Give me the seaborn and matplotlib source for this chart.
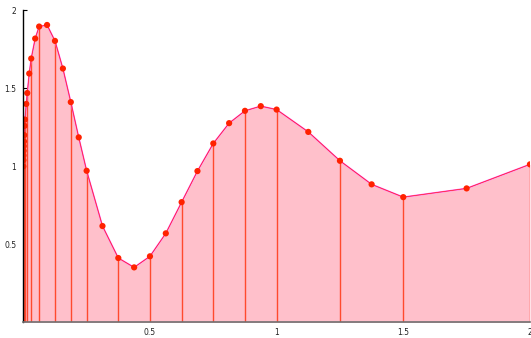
import numpy as np
import pandas as pd
import matplotlib
matplotlib.use("Agg")
import matplotlib.pyplot as plt
import seaborn as sns

# sample points (x, y)
x_samples = [0.0, 0.0002, 0.0005, 0.001, 0.0015, 0.0025, 0.0035, 0.005, 0.0065,
             0.0117, 0.0156, 0.0234, 0.03125, 0.0469, 0.0625, 0.09375, 0.125,
             0.15625, 0.1875, 0.21875, 0.25, 0.3125, 0.375, 0.4375, 0.5, 0.5625,
             0.625, 0.6875, 0.75, 0.8125, 0.875, 0.9375, 1.0, 1.125, 1.25, 1.375,
             1.5, 1.75, 2.0]
y_samples = [1.00, 1.04, 1.07, 1.10, 1.13, 1.16, 1.20, 1.26, 1.30,
             1.40, 1.47, 1.595, 1.691, 1.819, 1.896, 1.906, 1.804,
             1.627, 1.412, 1.186, 0.972, 0.618, 0.413, 0.353, 0.424, 0.571,
             0.771, 0.970, 1.147, 1.277, 1.356, 1.386, 1.364, 1.221, 1.036, 0.885,
             0.803, 0.859, 1.013]

# x positions of the vertical stems (a subset of the samples)
stem_x = [0.0, 0.0035, 0.0065, 0.0156, 0.03125, 0.0625, 0.125, 0.1875, 0.25,
          0.375, 0.5, 0.625, 0.75, 0.875, 1.0, 1.25, 1.5, 2.0]

x_ticks = [0.5, 1, 1.5, 2]
x_tick_labels = ["0.5", "1", "1.5", "2"]
y_ticks = [0.5, 1, 1.5, 2]
y_tick_labels = ["0.5", "1", "1.5", "2"]

df = pd.DataFrame({"x": x_samples, "y": y_samples})
lookup = dict(zip(x_samples, y_samples))
stem_y = [lookup[v] for v in stem_x]

sns.set_theme(style="white")
plt.rcParams["font.family"] = ["DejaVu Sans"]

fig = plt.figure(figsize=(5.31, 3.38), dpi=100)
ax = fig.add_axes([0.0439, 0.0459, 0.9541, 0.9236])

ax.fill_between(df["x"], df["y"], 0, color="#ffc0cb", linewidth=0, zorder=1)
ax.vlines(stem_x, 0, stem_y, color="#ff4a2e", linewidth=1.0, zorder=2)
sns.lineplot(data=df, x="x", y="y", ax=ax, color="#ff55ff", linewidth=1.1,
             estimator=None, sort=False, zorder=3)
sns.lineplot(data=df, x="x", y="y", ax=ax, color="#ff2a10", linewidth=0.5,
             estimator=None, sort=False, zorder=4)
sns.scatterplot(data=df, x="x", y="y", ax=ax, color="#ff2200", s=20,
                edgecolor="none", linewidth=0, zorder=5)

ax.set_xlim(0, 2)
ax.set_ylim(0, 2)
ax.set_xticks(x_ticks)
ax.set_xticklabels(x_tick_labels)
ax.set_yticks(y_ticks)
ax.set_yticklabels(y_tick_labels)
ax.set_xlabel("")
ax.set_ylabel("")

for s in ["top", "right"]:
    ax.spines[s].set_visible(False)
ax.spines["left"].set_color("black")
ax.spines["left"].set_linewidth(1.0)
ax.spines["bottom"].set_color("#707070")
ax.spines["bottom"].set_linewidth(1.2)
ax.spines["left"].set_zorder(6)
ax.spines["bottom"].set_zorder(6)

ax.tick_params(axis="y", direction="in", length=3, width=0.8, color="black",
               labelsize=5.5, labelcolor="#222222", pad=5, left=True)
ax.tick_params(axis="x", length=0, labelsize=5.5, labelcolor="#222222", pad=4,
               bottom=True)

fig.savefig("out.png", dpi=100)
